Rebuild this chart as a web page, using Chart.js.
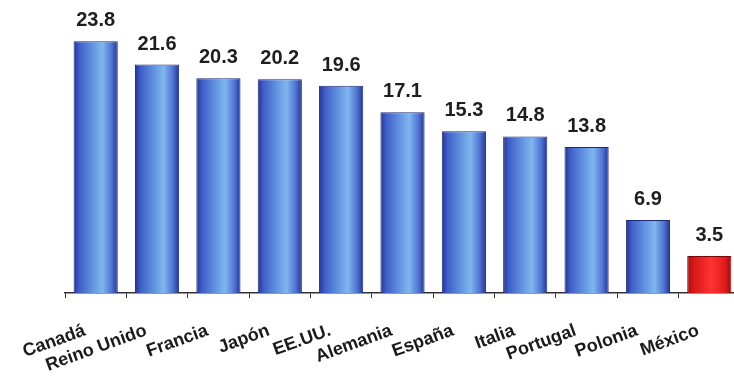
<!DOCTYPE html>
<html>
<head>
<meta charset="utf-8">
<script src="https://cdn.jsdelivr.net/npm/chart.js@4"></script>
<style>
    html, body { margin: 0; padding: 0; background: #fff; overflow: hidden; }
    #wrap { width: 740px; height: 380px; }
</style>
</head>
<body>
<div id="wrap"><canvas id="chart" width="740" height="380"></canvas></div>
<script>
// Daten
const paises = ["Canadá", "Reino Unido", "Francia", "Japón", "EE.UU.", "Alemania", "España", "Italia", "Portugal", "Polonia", "México"];
const valores = [23.8, 21.6, 20.3, 20.2, 19.6, 17.1, 15.3, 14.8, 13.8, 6.9, 3.5];
const destacado = ["México"];

const BAR_PCT = 0.72;

// Zylinder-Verlauf fuer jeden Balken
function barGradient(context) {
    const chart = context.chart;
    if (!chart.chartArea) return '#4a6fd0';
    const xs = chart.scales.x;
    const cx = xs.getPixelForValue(context.dataIndex);
    const w = xs.width / paises.length * BAR_PCT;
    const g = chart.ctx.createLinearGradient(cx - w / 2, 0, cx + w / 2, 0);
    if (destacado.includes(paises[context.dataIndex])) {
        g.addColorStop(0, '#a00d0d');
        g.addColorStop(0.15, '#d81818');
        g.addColorStop(0.55, '#ff3333');
        g.addColorStop(0.85, '#e01c1c');
        g.addColorStop(1, '#9a0c0c');
    } else {
        g.addColorStop(0, '#22318a');
        g.addColorStop(0.12, '#3e5cc6');
        g.addColorStop(0.4, '#5f8ede');
        g.addColorStop(0.65, '#80b6f0');
        g.addColorStop(0.86, '#4f74d2');
        g.addColorStop(1, '#24338e');
    }
    return g;
}

// Werte ueber den Balken
const valueLabels = {
    id: 'valueLabels',
    afterDatasetsDraw(chart) {
        const ctx = chart.ctx;
        const meta = chart.getDatasetMeta(0);
        ctx.save();
        ctx.font = 'bold 20px "Liberation Sans", Arial, sans-serif';
        ctx.fillStyle = '#1e1e1e';
        ctx.textAlign = 'center';
        ctx.textBaseline = 'alphabetic';
        meta.data.forEach((bar, i) => {
            ctx.fillText(valores[i].toFixed(1), bar.x, bar.y - 15);
        });
        ctx.restore();
    }
};

new Chart(document.getElementById('chart').getContext('2d'), {
    type: 'bar',
    data: {
        labels: paises,
        datasets: [{
            data: valores,
            backgroundColor: barGradient,
            borderColor: ctx => destacado.includes(paises[ctx.dataIndex]) ? '#7a0808' : '#1f2a78',
            borderWidth: { top: 1, left: 1, right: 1, bottom: 0 },
            borderSkipped: 'bottom',
            barPercentage: BAR_PCT,
            categoryPercentage: 1
        }]
    },
    options: {
        responsive: false,
        animation: false,
        events: [],
        layout: { padding: { left: 65, right: 0, top: 18, bottom: 0 } },
        plugins: { legend: { display: false }, tooltip: { enabled: false } },
        scales: {
            x: {
                offset: true,
                grid: { display: true, drawOnChartArea: false, drawTicks: true, tickLength: 5, color: '#333', offset: true },
                border: { display: true, color: '#333', width: 1.5 },
                ticks: {
                    autoSkip: false,
                    minRotation: 20,
                    maxRotation: 20,
                    padding: 22,
                    labelOffset: -11,
                    color: '#1a1a1a',
                    font: { family: '"Liberation Sans", Arial, sans-serif', size: 18, weight: 'bold' }
                },
                afterFit(scale) { scale.height = 87; }
            },
            y: {
                display: false,
                min: 0,
                max: 26
            }
        }
    },
    plugins: [valueLabels]
});
</script>
</body>
</html>
